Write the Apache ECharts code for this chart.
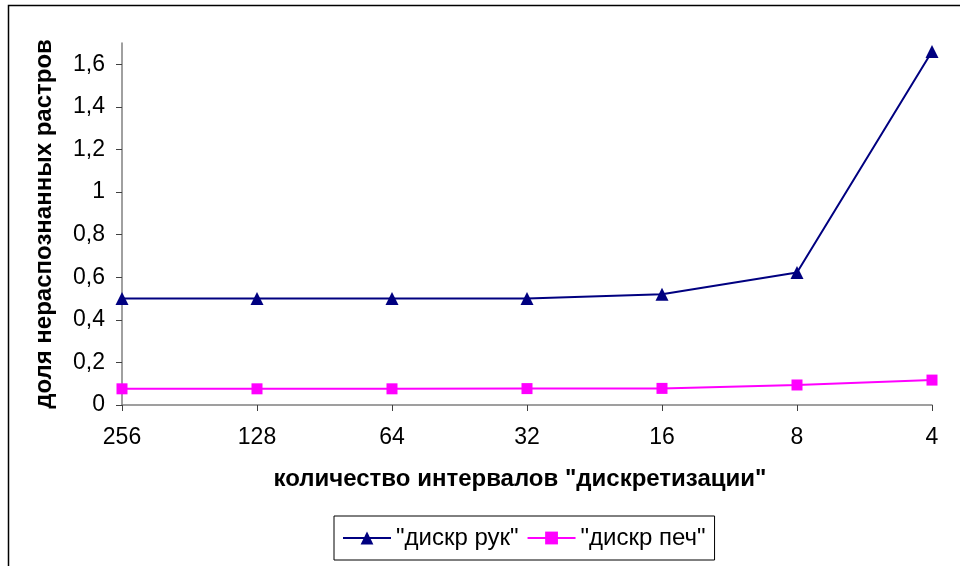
<!DOCTYPE html>
<html>
<head>
<meta charset="utf-8">
<script src="https://cdn.jsdelivr.net/npm/echarts@6/dist/echarts.min.js"></script>
<style>
  html, body { margin: 0; padding: 0; background: #fff; }
  #chart { width: 960px; height: 566px; }
</style>
</head>
<body>
<div id="chart"></div>
<script>
// Number of discretisation intervals (x categories)
const intervals = ['256', '128', '64', '32', '16', '8', '4'];
// Share of unrecognised rasters, hand-written set
const handValues = [0.5, 0.5, 0.5, 0.5, 0.52, 0.622, 1.66];
// Share of unrecognised rasters, printed set
const printValues = [0.076, 0.076, 0.076, 0.077, 0.078, 0.094, 0.117];
// Y tick values
const yTicks = [0, 0.2, 0.4, 0.6, 0.8, 1, 1.2, 1.4, 1.6];

const seriesNames = ['"дискр рук"', '"дискр печ"'];
const font = '"Liberation Sans", Arial, sans-serif';

const chart = echarts.init(document.getElementById('chart'), null, { renderer: 'canvas' });

chart.setOption({
  animation: false,
  backgroundColor: '#ffffff',
  graphic: [{
    type: 'rect',
    shape: { x: 8.5, y: 5.5, width: 1200, height: 1200 },
    style: { fill: 'none', stroke: '#000', lineWidth: 1.5 },
    silent: true
  }],
  grid: { left: 122, right: 28, top: 43, bottom: 161 },
  xAxis: {
    type: 'category',
    data: intervals,
    boundaryGap: false,
    name: 'количество интервалов "дискретизации"',
    nameLocation: 'middle',
    nameGap: 62,
    nameTextStyle: { fontFamily: font, fontSize: 24, fontWeight: 'bold', color: '#000', padding: [0, 14, 0, 0] },
    axisLine: { lineStyle: { color: '#808080', width: 1.5 } },
    axisTick: { alignWithLabel: true, length: 6, lineStyle: { color: '#404040', width: 1 } },
    axisLabel: { margin: 21, fontFamily: font, fontSize: 23, color: '#000' },
    splitLine: { show: false }
  },
  yAxis: {
    type: 'value',
    min: 0,
    max: 1.7,
    interval: 0.2,
    name: 'доля нераспознанных растров',
    nameLocation: 'middle',
    nameGap: 66,
    nameTextStyle: { fontFamily: font, fontSize: 24, fontWeight: 'bold', color: '#000' },
    axisLine: { show: true, lineStyle: { color: '#808080', width: 1.5 } },
    axisTick: { show: true, length: 6, customValues: yTicks, lineStyle: { color: '#404040', width: 1 } },
    axisLabel: {
      margin: 17, fontFamily: font, fontSize: 23, color: '#000',
      customValues: yTicks,
      formatter: v => String(Math.round(v * 10) / 10).replace('.', ',')
    },
    splitLine: { show: false }
  },
  legend: {
    bottom: 6,
    left: 334,
    data: seriesNames,
    itemWidth: 48,
    itemHeight: 16,
    itemGap: 8,
    padding: [10, 9, 10, 8],
    borderColor: '#000',
    borderWidth: 1,
    borderRadius: 0,
    textStyle: { fontFamily: font, fontSize: 24, color: '#000' }
  },
  series: [
    {
      name: seriesNames[0],
      type: 'line',
      data: handValues,
      symbol: 'triangle',
      symbolSize: 13,
      lineStyle: { color: '#000080', width: 2 },
      itemStyle: { color: '#000080' }
    },
    {
      name: seriesNames[1],
      type: 'line',
      data: printValues,
      symbol: 'rect',
      symbolSize: 11,
      lineStyle: { color: '#ff00ff', width: 2 },
      itemStyle: { color: '#ff00ff' }
    }
  ]
});
</script>
</body>
</html>
